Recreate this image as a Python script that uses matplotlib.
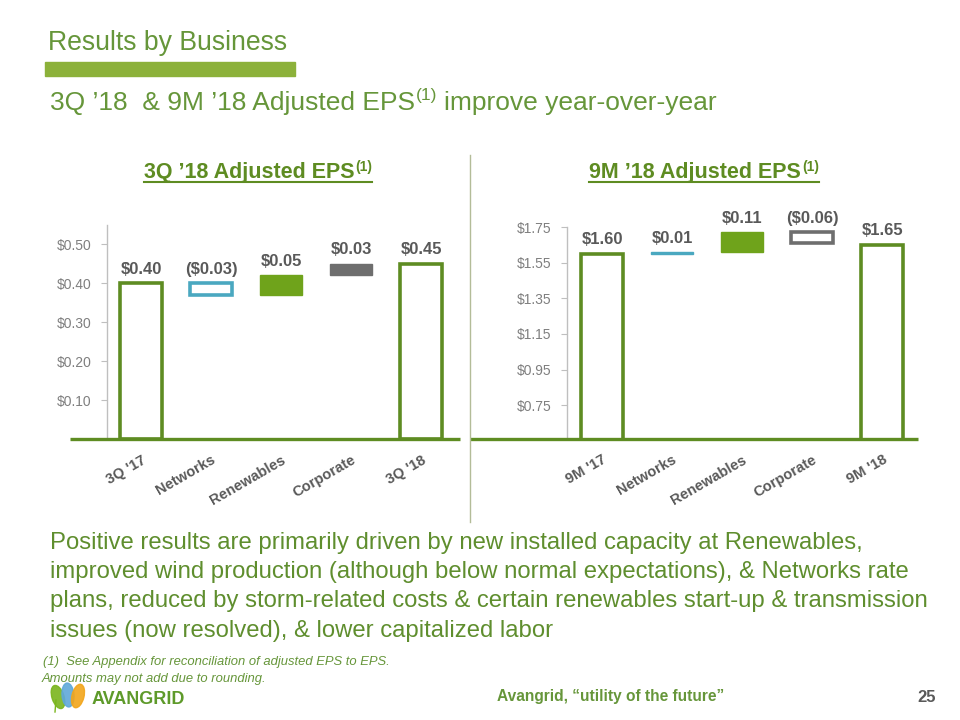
import matplotlib
matplotlib.use("Agg")
import matplotlib.pyplot as plt
from matplotlib.lines import Line2D
from matplotlib.patches import Ellipse
from matplotlib.transforms import IdentityTransform

plt.rcParams['font.family'] = ['Liberation Sans', 'DejaVu Sans']

# ---- data -------------------------------------------------------------
q3_labels = ["3Q '17", "Networks", "Renewables", "Corporate", "3Q '18"]
q3_values = [0.40, -0.03, 0.05, 0.03, 0.45]
q3_ticks = [0.10, 0.20, 0.30, 0.40, 0.50]

m9_labels = ["9M '17", "Networks", "Renewables", "Corporate", "9M '18"]
m9_values = [1.60, 0.01, 0.11, -0.06, 1.65]
m9_ticks = [0.75, 0.95, 1.15, 1.35, 1.55, 1.75]

body_lines = [
    "Positive results are primarily driven by new installed capacity at Renewables,",
    "improved wind production (although below normal expectations), & Networks rate",
    "plans, reduced by storm-related costs & certain renewables start-up & transmission",
    "issues (now resolved), & lower capitalized labor",
]

# ---- style ------------------------------------------------------------
W, H = 960, 720
GREEN_BAR = "#5E8C22"
GREEN_TXT = "#66963A"
GREEN_BODY = "#5F8E2E"
GREEN_FILL = "#6FA31B"
TEAL = "#4AA8C0"
GREY_SEG = "#6E6E6E"
LABEL_GREY = "#595959"
TICK_GREY = "#7F7F7F"
SEG_COLORS = [None, TEAL, GREEN_FILL, GREY_SEG, None]

fig = plt.figure(figsize=(W / 100, H / 100), dpi=100)
renderer = fig.canvas.get_renderer()


def fy(y):
    return 1 - y / H


def rich(x, y, parts, color, align="left"):
    """Draw text pieces side by side; parts = (text, size, weight, rise_px, gap_px)."""
    texts, widths = [], []
    for text, size, weight, rise, gap in parts:
        t = fig.text(0, fy(y - rise), text, fontsize=size, fontweight=weight,
                     color=color, va="baseline", ha="left")
        texts.append((t, gap))
        widths.append(t.get_window_extent(renderer).width)
    total = sum(widths) + sum(g for _, g in texts)
    cx = x - total / 2 if align == "center" else x
    for (t, gap), w in zip(texts, widths):
        cx += gap
        t.set_x(cx / W)
        cx += w
    return x if align == "left" else x - total / 2, total


def fmt(v):
    return f"(${abs(v):.2f})" if v < 0 else f"${v:.2f}"


def waterfall(ax, labels, values, ticks, ylim, xlim, base_x0):
    cum = values[0]
    n = len(values)
    for i, v in enumerate(values):
        if i == 0 or i == n - 1:
            ax.bar(i, v, width=0.6, bottom=0, facecolor="white", edgecolor=GREEN_BAR,
                   linewidth=2.6, zorder=3)
            top = v
        else:
            lo, hi = sorted([cum, cum + v])
            c = SEG_COLORS[i]
            if v >= 0:
                ax.bar(i, hi - lo, bottom=lo, width=0.6, facecolor=c, edgecolor=c,
                       linewidth=1.0, zorder=3)
            else:
                ax.bar(i, hi - lo, bottom=lo, width=0.6, facecolor="white", edgecolor=c,
                       linewidth=2.6, zorder=3)
            cum += v
            top = hi
        ax.annotate(fmt(v), (i, top), xytext=(0, 10), textcoords="offset points",
                    ha="center", va="center", fontsize=12, fontweight="bold",
                    color=LABEL_GREY)

    ax.set_xlim(*xlim)
    ax.set_ylim(*ylim)
    for side in ("top", "right", "bottom"):
        ax.spines[side].set_visible(False)
    ax.spines["left"].set_color("#BFBFBF")
    ax.spines["left"].set_linewidth(1.0)
    ax.set_yticks(ticks)
    ax.set_yticklabels([f"${t:.2f}" for t in ticks])
    ax.tick_params(axis="y", length=4, color="#BFBFBF", labelcolor=TICK_GREY,
                   labelsize=10, pad=7)
    ax.set_xticks(range(len(labels)))
    ax.set_xticklabels(labels, rotation=30, ha="right", rotation_mode="anchor",
                       fontweight="bold", color=LABEL_GREY, fontsize=10.5)
    ax.tick_params(axis="x", length=0, pad=10)
    ax.plot([base_x0, xlim[1]], [ylim[0], ylim[0]], color=GREEN_BAR, lw=2.4,
            clip_on=False, zorder=4, solid_capstyle="butt")


# left chart: plot area 107..460 px, baseline at 439 px
ax1 = fig.add_axes([107 / W, fy(439), 353 / W, (439 - 224.5) / H])
waterfall(ax1, q3_labels, q3_values, q3_ticks, (0, 0.55), (-0.486, 4.557), -1.01)

# right chart: plot area 567..918 px
ax2 = fig.add_axes([567 / W, fy(439), 351 / W, (439 - 227) / H])
waterfall(ax2, m9_labels, m9_values, m9_ticks, (0.56, 1.75), (-0.5, 4.51), -1.89)

# divider
fig.add_artist(Line2D([470 / W, 470 / W], [fy(155), fy(522)], color="#B3BC98", lw=1.0))

# ---- headings ---------------------------------------------------------
fig.text(48 / W, fy(50), "Results by Business", fontsize=19.2, color=GREEN_TXT,
         va="baseline", ha="left")
fig.add_artist(plt.Rectangle((45 / W, fy(76)), 250 / W, 14 / H, color="#8CB13A",
                             transform=fig.transFigure))
rich(50, 110, [("3Q \u201918  & 9M \u201918 Adjusted EPS", 19, "normal", 0, 0),
               ("(1)", 12.5, "normal", 10, 1),
               ("improve year-over-year", 19, "normal", 0, 7)], GREEN_TXT)

for cx, head in ((258, "3Q \u201918 Adjusted EPS"), (704, "9M \u201918 Adjusted EPS")):
    x0, tw = rich(cx, 178, [(head, 15.5, "bold", 0, 0), ("(1)", 10, "bold", 7, 1)],
                  GREEN_BAR, align="center")
    fig.add_artist(Line2D([x0 / W, (x0 + tw) / W], [fy(182), fy(182)],
                          color=GREEN_BAR, lw=1.5))

# ---- body -------------------------------------------------------------
for k, line in enumerate(body_lines):
    fig.text(50 / W, fy(549 + 29.2 * k), line, fontsize=17.2, color=GREEN_BODY,
             va="baseline", ha="left")

fig.text(43 / W, fy(665), "(1)  See Appendix for reconciliation of adjusted EPS to EPS.",
         fontsize=9.4, style="italic", color=GREEN_TXT, va="baseline")
fig.text(42 / W, fy(682), "Amounts may not add due to rounding.",
         fontsize=9.4, style="italic", color=GREEN_TXT, va="baseline")

# logo
idt = IdentityTransform()
for (x, y, ang, col) in ((58, 697, 18, "#7AB51D"), (68, 695, 5, "#5FA8D8"),
                         (78, 696, -14, "#F2A51A")):
    fig.add_artist(Ellipse((x, H - y), 12, 24, angle=ang, color=col, transform=idt,
                           alpha=0.9))
fig.add_artist(Line2D([55, 56], [H - 712, H - 700], color="#7AB51D", lw=1.0, transform=idt))
fig.text(92 / W, fy(704), "AVANGRID", fontsize=13, fontweight="bold", color="#5E9A2A",
         va="baseline")

fig.text(497 / W, fy(701), "Avangrid, \u201cutility of the future\u201d", fontsize=11.2,
         fontweight="bold", color=GREEN_TXT, va="baseline")
fig.text(936 / W, fy(702), "25", fontsize=12, fontweight="bold", color=LABEL_GREY,
         va="baseline", ha="right")

fig.savefig("out.png", dpi=100)
